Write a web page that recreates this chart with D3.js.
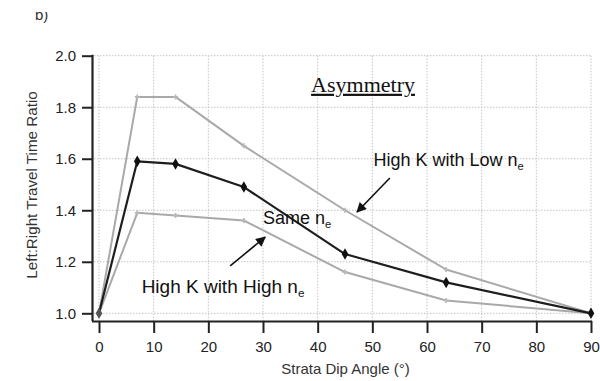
<!DOCTYPE html>
<html>
<head>
<meta charset="utf-8">
<script src="https://cdn.jsdelivr.net/npm/d3@7"></script>
<style>
  html, body { margin: 0; padding: 0; background: #fff; }
  svg { display: block; font-family: Arial, "Liberation Sans", sans-serif; }
</style>
</head>
<body>
<svg id="chart" width="600" height="381"></svg>
<script>
// Dip angle (degrees) of each model run
const dipAngles = [0, 7, 14, 26.5, 45, 63.5, 90];
// Left:right travel time ratio for each scenario
const sameNe      = [1.00, 1.59, 1.58, 1.49, 1.23, 1.12, 1.00];
const highKLowNe  = [1.00, 1.84, 1.84, 1.65, 1.40, 1.17, 1.00];
const highKHighNe = [1.00, 1.39, 1.38, 1.36, 1.16, 1.05, 1.00];

const xTicks = [0, 10, 20, 30, 40, 50, 60, 70, 80, 90];
const yTicks = [1.0, 1.2, 1.4, 1.6, 1.8, 2.0];

const svg = d3.select("#chart");

const x = d3.scaleLinear().domain([0, 90]).range([99, 591]);
const y = d3.scaleLinear().domain([1.0, 2.0]).range([313.3, 55.7]);
const axisX = 92, axisY = 321;

// panel letter (top partially cut)
svg.append("defs").append("clipPath").attr("id", "panelClip")
  .append("rect").attr("x", 0).attr("y", 12).attr("width", 80).attr("height", 20);
svg.append("text").attr("x", 35).attr("y", 20)
  .attr("font-size", 15).attr("fill", "#333")
  .attr("clip-path", "url(#panelClip)").text("b)");

// dotted grid
const grid = svg.append("g").attr("stroke", "#c4c4c4").attr("stroke-width", 1)
  .attr("stroke-dasharray", "1.5,1.5");
grid.selectAll("line.v").data(xTicks).join("line").attr("class", "v")
  .attr("x1", d => x(d)).attr("x2", d => x(d))
  .attr("y1", y(2.0)).attr("y2", axisY);
grid.selectAll("line.h").data(yTicks).join("line").attr("class", "h")
  .attr("x1", axisX + 2).attr("x2", x(90) + 1)
  .attr("y1", d => y(d)).attr("y2", d => y(d));

// axes
const xAxis = d3.axisBottom(x).tickValues(xTicks).tickFormat(d3.format("d"))
  .tickSize(12).tickPadding(8);
const gx = svg.append("g").attr("transform", `translate(0,${axisY})`).call(xAxis);
gx.select(".domain").attr("d", `M${axisX},0.5H${x(90) + 1}`);

const yAxis = d3.axisLeft(y).tickValues(yTicks).tickFormat(d3.format(".1f"))
  .tickSize(10).tickPadding(6);
const gy = svg.append("g").attr("transform", `translate(${axisX},0)`).call(yAxis);
gy.select(".domain").attr("d", `M0.5,${y(2.0) - 1}V${axisY}`);

[gx, gy].forEach(g => {
  g.attr("font-family", null);
  g.select(".domain").attr("stroke", "#222").attr("stroke-width", 2.2);
  g.selectAll(".tick line").attr("stroke", "#222").attr("stroke-width", 2);
  g.selectAll(".tick text").attr("fill", "#222").attr("font-size", 15);
});

// axis titles
svg.append("text").attr("x", 345.5).attr("y", 374).attr("text-anchor", "middle")
  .attr("font-size", 15).attr("fill", "#333").text("Strata Dip Angle (°)");
svg.append("text").attr("transform", "translate(37,185) rotate(-90)")
  .attr("text-anchor", "middle").attr("font-size", 15.2).attr("fill", "#333")
  .text("Left:Right Travel Time Ratio");

// series lines
const line = d3.line().x((d, i) => x(dipAngles[i])).y(d => y(d));
const series = [
  { values: highKLowNe,  color: "#a9a9a9", width: 2, marker: "plus" },
  { values: highKHighNe, color: "#a9a9a9", width: 2, marker: "plus" },
  { values: sameNe,      color: "#1e1e1e", width: 2.2, marker: "diamond" }
];
series.forEach(s => {
  svg.append("path").datum(s.values).attr("d", line)
    .attr("fill", "none").attr("stroke", s.color).attr("stroke-width", s.width)
    .attr("stroke-linejoin", "round");
});
series.filter(s => s.marker === "plus").forEach(s => {
  svg.append("g").selectAll("path").data(s.values).join("path")
    .attr("transform", (d, i) => `translate(${x(dipAngles[i])},${y(d)})`)
    .attr("d", d3.symbol(d3.symbolCross, 14))
    .attr("fill", "#b8b8b8");
});
series.filter(s => s.marker === "diamond").forEach(s => {
  svg.append("g").selectAll("path").data(s.values).join("path")
    .attr("transform", (d, i) => `translate(${x(dipAngles[i])},${y(d)})`)
    .attr("d", d3.symbol(d3.symbolDiamond, 38))
    .attr("fill", (d, i) => (i === 0 ? "#555" : "#111"));
});

// annotations (positioned in data units)
const notes = [
  { t: "High K with Low n", sub: "e", ax: 50.2, ay: 1.57, size: 18 },
  { t: "Same n", sub: "e", ax: 30.0, ay: 1.345, size: 18 },
  { t: "High K with High n", sub: "e", ax: 7.8, ay: 1.078, size: 19 }
];
notes.forEach(n => {
  const tx = svg.append("text").attr("x", x(n.ax)).attr("y", y(n.ay))
    .attr("font-size", n.size).attr("fill", "#111");
  tx.append("tspan").text(n.t);
  tx.append("tspan").attr("dy", 4).attr("font-size", n.size * 0.62).text(n.sub);
});

svg.append("text").attr("x", x(38.8)).attr("y", y(1.86))
  .style("font-family", "'Liberation Serif', 'Times New Roman', serif")
  .attr("font-size", 22).attr("fill", "#111").attr("text-decoration", "underline")
  .text("Asymmetry");

// pointer arrows
const arrows = [
  { from: [53.2, 1.525], to: [47.2, 1.393] },
  { from: [24.0, 1.184], to: [30.4, 1.296] }
];
svg.append("defs").append("marker").attr("id", "head")
  .attr("viewBox", "0 0 10 10").attr("refX", 9).attr("refY", 5)
  .attr("markerWidth", 11).attr("markerHeight", 10).attr("markerUnits", "userSpaceOnUse")
  .attr("orient", "auto")
  .append("path").attr("d", "M0,0L10,5L0,10Z").attr("fill", "#111");
arrows.forEach(a => {
  svg.append("line")
    .attr("x1", x(a.from[0])).attr("y1", y(a.from[1]))
    .attr("x2", x(a.to[0])).attr("y2", y(a.to[1]))
    .attr("stroke", "#111").attr("stroke-width", 1.6)
    .attr("marker-end", "url(#head)");
});
</script>
</body>
</html>
